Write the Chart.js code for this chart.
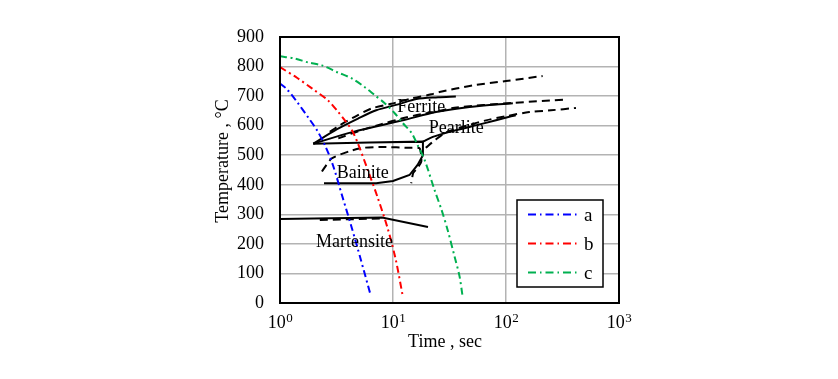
<!DOCTYPE html>
<html><head><meta charset="utf-8">
<script src="https://cdn.jsdelivr.net/npm/chart.js@4.4.1/dist/chart.umd.min.js"></script>
<style>html,body{margin:0;padding:0;background:#fff;}#wrap{width:838px;height:379px;}</style>
</head><body><div id="wrap"><canvas id="c" width="838" height="379"></canvas></div>
<script>
// ---- axis ticks ----
const xTickValues = [1, 10, 100, 1000];
const xTickBase = ['10', '10', '10', '10'];
const xTickExponent = ['0', '1', '2', '3'];
const yTickValues = [0, 100, 200, 300, 400, 500, 600, 700, 800, 900];

// ---- cooling curves (time in s, temperature in °C) ----
const seriesNames = ['a', 'b', 'c'];
const aTime = [1, 1.153, 1.442, 1.767, 2.121, 2.496, 2.937, 3.526, 4.321, 5.186, 6.357];
const aTemp = [743, 723, 676, 629, 585, 534, 467, 366, 254, 147, 25];
const bTime = [1, 1.413, 1.917, 2.653, 3.186, 3.748, 4.321, 4.88, 5.98, 7.33, 8.98, 10.56, 12.18];
const bTemp = [798, 762, 726, 686, 652, 618, 585, 541, 450, 356, 252, 148, 25];
const cTime = [1, 1.356, 1.767, 2.348, 3.25, 4.32, 5.63, 6.90, 8.45, 10.35, 12.18, 14.62, 16.52, 19.05, 23.34, 26.9, 30.4, 35.06, 38.8, 41.2];
const cTemp = [835, 827, 814, 804, 780, 760, 730, 703, 676, 642, 609, 575, 534, 484, 382, 315, 248, 157, 90, 25];

// ---- transformation lines (solid) ----
const ferriteStartTime = [1.97, 3.2, 4.9, 7.1, 11.1, 16.1, 25, 36];
const ferriteStartTemp = [539, 588, 624, 652, 672, 690, 696, 699];
const pearliteStartTime = [1.97, 4.44, 12.2, 24, 47.5, 115];
const pearliteStartTemp = [539, 579, 618, 646, 663, 676];
const noseBainiteTime = [1.97, 6.2, 18.4, 18.4, 16.5, 14.0, 10.0, 7.1, 2.45];
const noseBainiteTemp = [539, 543, 546, 500, 467, 433, 413, 405, 405];
const pearliteFinishTime = [18.4, 22.5, 31.6, 62.3, 107, 122];
const pearliteFinishTemp = [546, 562, 579, 607, 630, 635];
const martensiteTime = [1, 8.0, 20.4];
const martensiteTemp = [284, 289, 257];

// ---- transformation lines (dashed) ----
const dashUpperTime = [2.76, 3.27, 4.59, 6.45, 9.67, 14.5, 21.8, 25.8, 50.8, 100, 211];
const dashUpperTemp = [579, 598, 630, 658, 674, 692, 706, 714, 736, 751, 768];
const dashMiddleTime = [3.28, 5.26, 7.9, 11.9, 17.8, 23.4, 35, 115, 350];
const dashMiddleTemp = [557, 585, 605, 624, 639, 646, 661, 677, 689];
const dashBainiteTime = [2.35, 2.86, 4.15, 5.43, 8.15, 14, 17.2, 17.8, 16.3, 15.1, 14.5];
const dashBainiteTemp = [445, 489, 514, 525, 528, 525, 523, 478, 455, 440, 405];
const dashPearliteTime = [19.5, 22.5, 29.6, 45, 66.6, 100, 161, 250, 416];
const dashPearliteTemp = [525, 545, 578, 600, 618, 632, 646, 652, 660];
const dashMartensiteTime = [2.25, 8.2];
const dashMartensiteTemp = [281, 286];

// ---- phase labels ----
const phaseLabels = ['Ferrite', 'Pearlite', 'Bainite', 'Martensite'];
const phaseLabelTime = [17.8, 36.3, 5.4, 4.56];
const phaseLabelTemp = [645, 575, 423, 190];

const FONT = 'Liberation Serif';
const pts = (t, T) => t.map((v, i) => ({x: v, y: T[i]}));
const dashDot = [7, 3.5, 2, 3.5];
const dash = [8, 5];

function colored(label, t, T, color) {
  return {label, data: pts(t, T), borderColor: color, borderWidth: 2, borderDash: dashDot,
    showLine: true, pointRadius: 0, tension: 0.3, fill: false};
}
function black(t, T, dashed, tension) {
  return {label: '', data: pts(t, T), borderColor: '#000', borderWidth: 2,
    borderDash: dashed ? dash : [], showLine: true, pointRadius: 0, tension: tension, fill: false};
}

const datasets = [
  colored(seriesNames[0], aTime, aTemp, '#0000ff'),
  colored(seriesNames[1], bTime, bTemp, '#ff0000'),
  colored(seriesNames[2], cTime, cTemp, '#00b050'),
  black(ferriteStartTime, ferriteStartTemp, false, 0.3),
  black(pearliteStartTime, pearliteStartTemp, false, 0.3),
  black(noseBainiteTime, noseBainiteTemp, false, 0),
  black(pearliteFinishTime, pearliteFinishTemp, false, 0.3),
  black(martensiteTime, martensiteTemp, false, 0),
  black(dashUpperTime, dashUpperTemp, true, 0.3),
  black(dashMiddleTime, dashMiddleTemp, true, 0.3),
  black(dashBainiteTime, dashBainiteTemp, true, 0.2),
  black(dashPearliteTime, dashPearliteTemp, true, 0.3),
  black(dashMartensiteTime, dashMartensiteTemp, true, 0)
];

const overlay = {
  id: 'overlay',
  afterDatasetsDraw(chart) {
    const {ctx, chartArea: a, scales: {x, y}} = chart;
    ctx.save();
    // phase labels
    ctx.fillStyle = '#000';
    ctx.font = '18px "' + FONT + '"';
    ctx.textAlign = 'center';
    ctx.textBaseline = 'alphabetic';
    phaseLabels.forEach((s, i) => {
      ctx.fillText(s, x.getPixelForValue(phaseLabelTime[i]), y.getPixelForValue(phaseLabelTemp[i]));
    });
    // frame
    ctx.strokeStyle = '#000';
    ctx.lineWidth = 2;
    ctx.strokeRect(a.left, a.top, a.right - a.left, a.bottom - a.top);
    // legend
    const bw = 86, bh = 87;
    const bx = a.right - 102, by = a.bottom - 103;
    ctx.fillStyle = '#fff';
    ctx.fillRect(bx, by, bw, bh);
    ctx.lineWidth = 1.5;
    ctx.strokeRect(bx, by, bw, bh);
    for (let i = 0; i < 3; i++) {
      const ds = chart.data.datasets[i];
      const ly = by + 14.5 + i * 29;
      ctx.beginPath();
      ctx.setLineDash([8, 4, 1.5, 4]);
      ctx.strokeStyle = ds.borderColor;
      ctx.lineWidth = 2;
      ctx.moveTo(bx + 11, ly);
      ctx.lineTo(bx + 61, ly);
      ctx.stroke();
      ctx.setLineDash([]);
      ctx.fillStyle = '#000';
      ctx.textAlign = 'left';
      ctx.font = '19px "' + FONT + '"';
      ctx.fillText(ds.label, bx + 67, ly + 6.5);
    }
    // x tick labels with superscript exponents
    xTickValues.forEach((v, i) => {
      const px = x.getPixelForValue(v);
      ctx.font = '18px "' + FONT + '"';
      const w1 = ctx.measureText(xTickBase[i]).width;
      ctx.font = '13px "' + FONT + '"';
      const w2 = ctx.measureText(xTickExponent[i]).width;
      const start = px - (w1 + w2) / 2;
      ctx.textAlign = 'left';
      ctx.font = '18px "' + FONT + '"';
      ctx.fillText(xTickBase[i], start, a.bottom + 25);
      ctx.font = '13px "' + FONT + '"';
      ctx.fillText(xTickExponent[i], start + w1 + 0.5, a.bottom + 19);
    });
    ctx.restore();
  }
};

new Chart(document.getElementById('c'), {
  type: 'scatter',
  data: {datasets},
  options: {
    responsive: false,
    animation: false,
    devicePixelRatio: 1,
    layout: {padding: {left: 200, right: 219, top: 37, bottom: 20}},
    plugins: {legend: {display: false}, tooltip: {enabled: false}},
    scales: {
      x: {
        type: 'logarithmic', min: 1, max: 1000,
        afterBuildTicks: s => { s.ticks = xTickValues.map(v => ({value: v})); },
        afterFit: s => { s.height = 56; },
        ticks: {
          autoSkip: false, maxRotation: 0, padding: 8, color: '#000',
          font: {family: FONT, size: 18},
          callback: () => ''
        },
        grid: {color: '#b3b3b3', lineWidth: 1.5, drawTicks: false},
        border: {display: false},
        title: {display: true, text: 'Time , sec  ', color: '#000', font: {family: FONT, size: 18}, padding: {top: 0, bottom: 6}}
      },
      y: {
        type: 'linear', min: 0, max: 900,
        afterBuildTicks: s => { s.ticks = yTickValues.map(v => ({value: v})); },
        afterFit: s => { s.width = 80; },
        ticks: {padding: 16, color: '#000', font: {family: FONT, size: 18}},
        grid: {color: '#b3b3b3', lineWidth: 1.5, drawTicks: false},
        border: {display: false},
        title: {display: true, text: '    Temperature , °C', color: '#000', font: {family: FONT, size: 18}, padding: {top: 12, bottom: 0}}
      }
    }
  },
  plugins: [overlay]
});
</script>
</body></html>
